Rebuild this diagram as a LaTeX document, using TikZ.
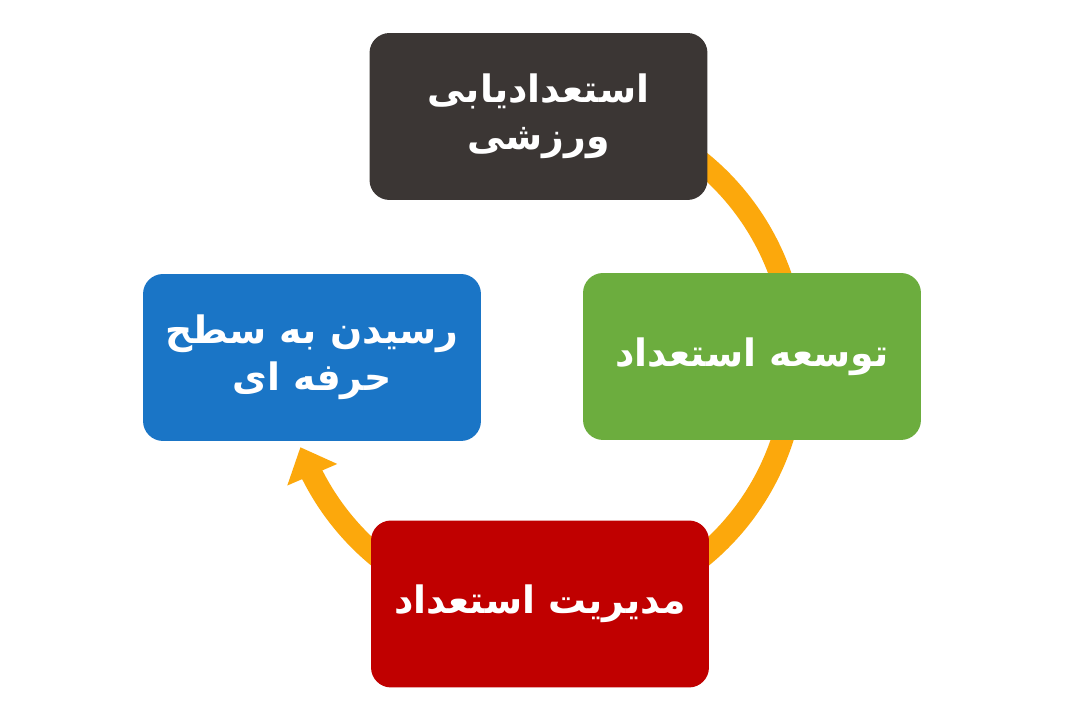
\documentclass[tikz,border=0pt]{standalone}
\usepackage{fontspec}
\usetikzlibrary{arrows.meta,bending}
\TeXXeTstate=1
\newfontfamily\arabicfont[Script=Arabic]{DejaVu Sans}
\definecolor{boxdark}{HTML}{3B3634}
\definecolor{boxgreen}{HTML}{6CAD3E}
\definecolor{boxblue}{HTML}{1A75C6}
\definecolor{boxred}{HTML}{C00000}
\definecolor{ringorange}{HTML}{FCA80C}
\tikzset{
  stage/.style={rounded corners=0.4cm, minimum width=6.76cm, minimum height=3.34cm,
    inner sep=0pt, align=center, text=white, font=\arabicfont\bfseries\fontsize{21.5}{27}\selectfont},
  ring/.style={draw=ringorange, line width=0.44cm}
}
\begin{document}
\begin{tikzpicture}[x=0.02cm,y=0.02cm]
\useasboundingbox[fill=white] (0,0) rectangle (1080,720);
\coordinate (c) at (540,360);
\draw[ring,-{Triangle[width=1.05cm,length=0.6cm]}] (c) ++(70:255) arc[start angle=70, end angle=-160, radius=255];
\node[stage, fill=boxdark] (top) at (538.5,603.5) {\beginR استعدادیابی\endR\\\beginR ورزشی\endR};
\node[stage, fill=boxgreen] (right) at (752,363.5) {\beginR توسعه استعداد\endR};
\node[stage, fill=boxblue] (left) at (312,362.5) {\beginR رسیدن به سطح\endR\\\beginR حرفه ای\endR};
\node[stage, fill=boxred] (bottom) at (540,116) {\beginR مدیریت استعداد\endR};
\end{tikzpicture}
\end{document}
